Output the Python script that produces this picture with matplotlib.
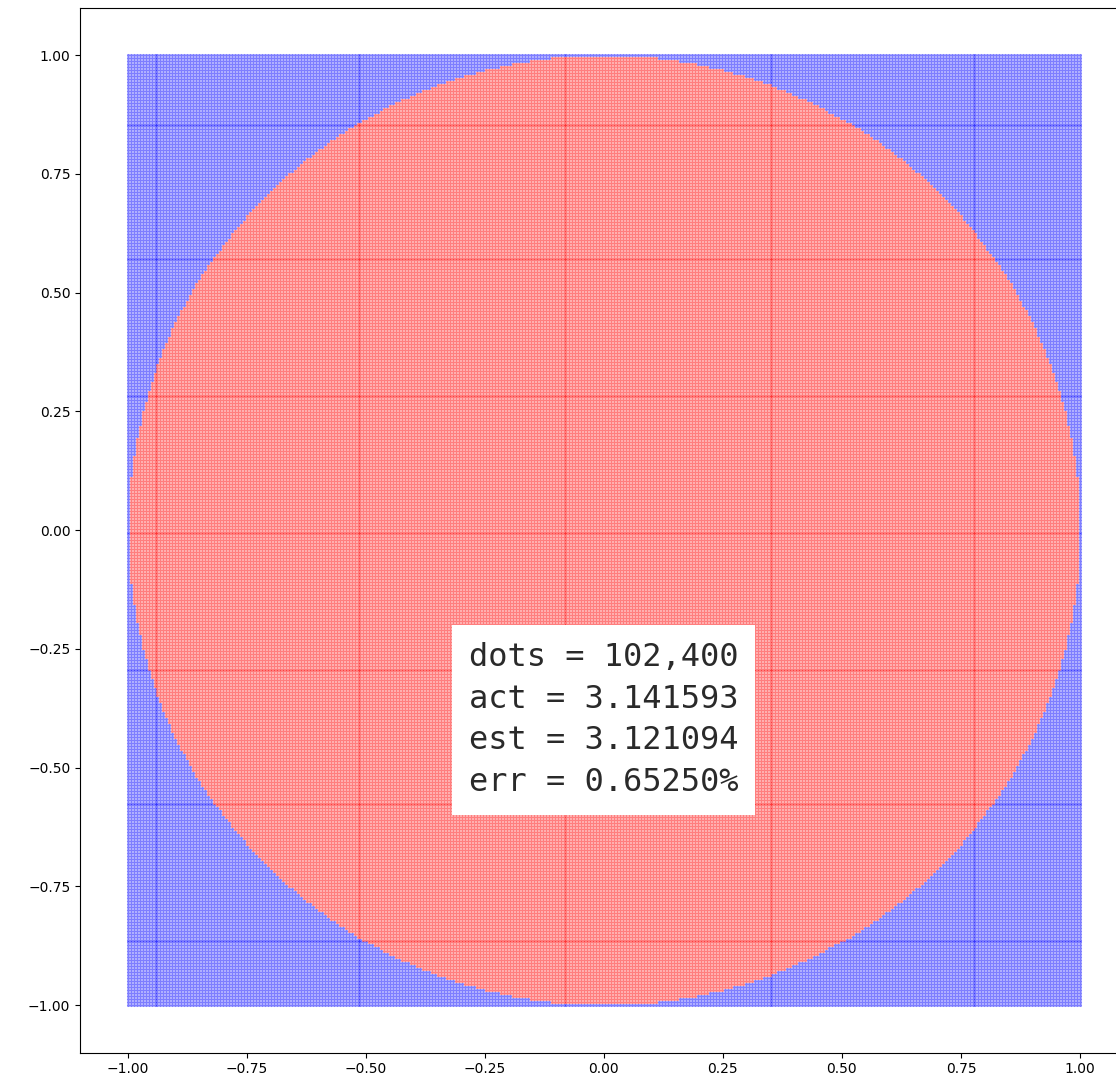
import numpy as np
import matplotlib
matplotlib.use("Agg")
import matplotlib.pyplot as plt

# grid of dots: 320 x 320 = 102,400
N_SIDE = 320
grid_min, grid_max = -1.0, 1.0

# values shown in the box
dots_label = "102,400"
act_label = "3.141593"
est_label = "3.121094"
err_label = "0.65250%"

ticks = [-1.00, -0.75, -0.50, -0.25, 0.00, 0.25, 0.50, 0.75, 1.00]

xs = np.linspace(grid_min, grid_max, N_SIDE)
gx, gy = np.meshgrid(xs, xs)
gx = gx.ravel()
gy = gy.ravel()
inside = gx**2 + gy**2 <= 1.0

fig = plt.figure(figsize=(11.16, 10.88), dpi=100)
ax = fig.add_axes([0.0717, 0.0326, 0.9387, 0.9605])

ax.scatter(gx[~inside], gy[~inside], s=5, c="blue", alpha=0.5, marker="o", linewidths=0)
ax.scatter(gx[inside], gy[inside], s=5, c="red", alpha=0.5, marker="o", linewidths=0)

txt = "\n".join([
    f"dots = {dots_label}",
    f"act = {act_label}",
    f"est = {est_label}",
    f"err = {err_label}",
])
ax.text(0.0, -0.4, txt, ha="center", va="center", fontsize=23,
        family="DejaVu Sans Mono", color="#2a2a2a", linespacing=1.45,
        multialignment="left",
        bbox=dict(facecolor="white", edgecolor="none", pad=12))

ax.set_xlim(-1.1, 1.1)
ax.set_ylim(-1.1, 1.1)
ax.set_xticks(ticks)
ax.set_yticks(ticks)
ax.set_xticklabels([f"{t:.2f}".replace("-", "\u2212") for t in ticks])
ax.set_yticklabels([f"{t:.2f}".replace("-", "\u2212") for t in ticks])

fig.savefig("out.png", dpi=100)
